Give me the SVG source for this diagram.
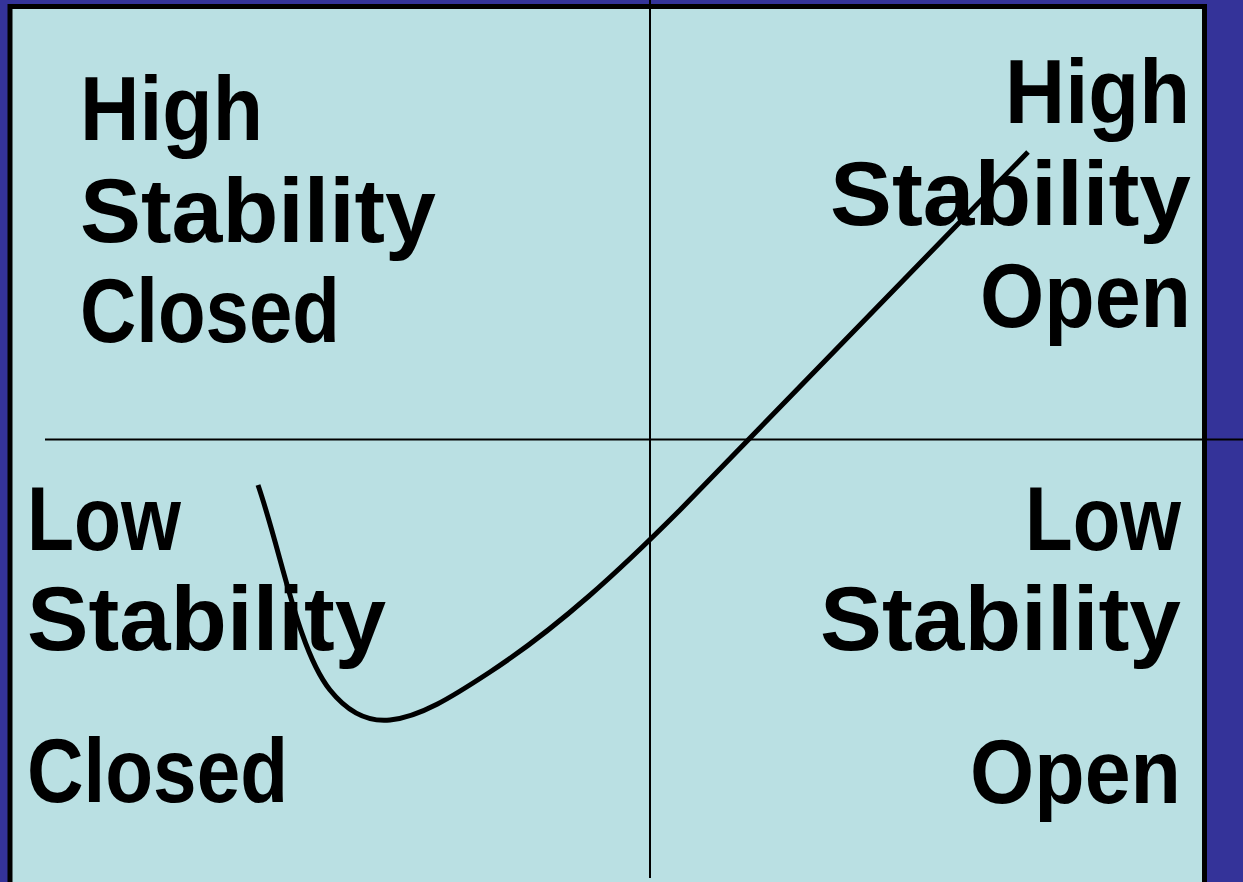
<svg xmlns="http://www.w3.org/2000/svg" width="1243" height="882" viewBox="0 0 1243 882">
<style>
.lbl{font-family:"Liberation Sans",Arial,sans-serif;font-weight:bold;font-size:90px;fill:#000}
.axis{stroke:#000;stroke-width:2;fill:none}
.curve{stroke:#000;stroke-width:5;fill:none;stroke-linejoin:round}
</style>
<rect x="0" y="0" width="1243" height="882" fill="#343399"/>
<rect id="panel" x="10" y="6.5" width="1194.5" height="900" fill="#BAE0E3" stroke="#000" stroke-width="5"/>
<g id="connectors">
<line class="axis" x1="650" y1="0" x2="650" y2="878"/>
<line class="axis" x1="45" y1="439.5" x2="1243" y2="439.5"/>
<path class="curve" d="M258,485 C282,555 298,650 330,690 C350,715 370,722 390,720 C420,717 452,697 490,672 C560,626 620,570 680,510 L1028,152"/>
</g>
<g id="high-closed">
<text class="lbl" x="80" y="140" textLength="183" lengthAdjust="spacingAndGlyphs">High</text>
<text class="lbl" x="80" y="242" textLength="356" lengthAdjust="spacingAndGlyphs">Stability</text>
<text class="lbl" x="80" y="342" textLength="260" lengthAdjust="spacingAndGlyphs">Closed</text>
</g>
<g id="high-open">
<text class="lbl" x="1005" y="123" textLength="185" lengthAdjust="spacingAndGlyphs">High</text>
<text class="lbl" x="830" y="225" textLength="361" lengthAdjust="spacingAndGlyphs">Stability</text>
<text class="lbl" x="980" y="327" textLength="211" lengthAdjust="spacingAndGlyphs">Open</text>
</g>
<g id="low-closed">
<text class="lbl" x="27" y="550" textLength="154" lengthAdjust="spacingAndGlyphs">Low</text>
<text class="lbl" x="27" y="650" textLength="359" lengthAdjust="spacingAndGlyphs">Stability</text>
<text class="lbl" x="27" y="802" textLength="261" lengthAdjust="spacingAndGlyphs">Closed</text>
</g>
<g id="low-open">
<text class="lbl" x="1025" y="550" textLength="156" lengthAdjust="spacingAndGlyphs">Low</text>
<text class="lbl" x="820" y="650" textLength="361" lengthAdjust="spacingAndGlyphs">Stability</text>
<text class="lbl" x="970" y="803" textLength="211" lengthAdjust="spacingAndGlyphs">Open</text>
</g>
</svg>
